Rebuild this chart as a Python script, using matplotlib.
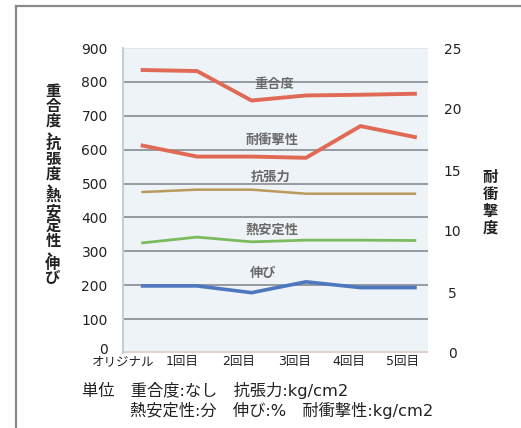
import numpy as np
import matplotlib.pyplot as plt
import matplotlib.transforms as mtransforms
from matplotlib.lines import Line2D

plt.rcParams['font.family'] = ['DejaVu Sans', 'Noto Sans CJK JP']

# データ
categories = ['オリジナル', '1回目', '2回目', '3回目', '4回目', '5回目']
jugodo = [835, 832, 745, 760, 762, 765]        # 重合度 (左軸)
chocho = [475, 482, 482, 470, 470, 470]        # 抗張力 (左軸)
netsu = [325, 342, 328, 333, 333, 332]         # 熱安定性 (左軸)
nobi = [198, 198, 178, 210, 193, 193]          # 伸び (左軸)
taishoge = [17.0, 16.1, 16.1, 16.0, 18.6, 17.7]  # 耐衝撃性 (右軸)

left_ticks = [0, 100, 200, 300, 400, 500, 600, 700, 800, 900]
right_ticks = [0, 5, 10, 15, 20, 25]

W, H = 521, 428
fig = plt.figure(figsize=(W / 100, H / 100), dpi=100)
fig.patch.set_facecolor('white')

# 外枠
fig.add_artist(Line2D([16 / W, 16 / W], [0, 1 - 6 / H], transform=fig.transFigure,
                      color='#8a8a8a', lw=1.6))
fig.add_artist(Line2D([16 / W, 1], [1 - 6 / H, 1 - 6 / H], transform=fig.transFigure,
                      color='#8a8a8a', lw=1.6))

ax = fig.add_axes([123 / W, (H - 353) / H, (428 - 123) / W, (353 - 48) / H])
ax.set_facecolor('#eef3f7')
x = np.arange(len(categories))
ax.set_xlim(-0.31, 5.24)
ax.set_ylim(0, 900)

for v in left_ticks[1:-1]:
    ax.axhline(v, color='#959aa1', lw=1.4, zorder=1)
ax.axhline(900, color='#dfe3e7', lw=1.2, zorder=1)
ax.axhline(3, color='#e3d3cf', lw=1.5, zorder=1)

for s in ['top', 'right', 'bottom']:
    ax.spines[s].set_visible(False)
ax.spines['left'].set_color('#c8cdd2')
ax.spines['left'].set_linewidth(1.5)

ax.plot(x, jugodo, color='#e06a55', lw=2.8, zorder=3)
ax.plot(x, chocho, color='#b89a5a', lw=1.8, zorder=3)
ax.plot(x, netsu, color='#7cba5e', lw=2.0, zorder=3)
ax.plot(x, nobi, color='#4d78bf', lw=2.6, zorder=3)

ax2 = ax.twinx()
ax2.set_ylim(0, 25)
ax2.plot(x, taishoge, color='#e06a55', lw=2.8, zorder=3)
for s in ax2.spines.values():
    s.set_visible(False)

# 系列名
lab_style = dict(color='#6a6a6a', fontsize=9.5, fontweight='bold', ha='center', va='center')
ax.text(2.42, 793, '重合度', **lab_style)
ax.text(2.38, 626, '耐衝撃性', **lab_style)
ax.text(2.35, 518, '抗張力', **lab_style)
ax.text(2.38, 364, '熱安定性', **lab_style)
ax.text(2.22, 235, '伸び', **lab_style)

ax.set_yticks(left_ticks)
ax.set_yticklabels([str(v) for v in left_ticks], fontsize=10, color='#222222')
ax.tick_params(axis='y', length=0, pad=11)
zero_lab = ax.get_yticklabels()[0]
zero_lab.set_transform(zero_lab.get_transform() +
                       mtransforms.ScaledTranslation(0, 4 / 100, fig.dpi_scale_trans))
ax2.set_yticks(right_ticks)
ax2.set_yticklabels([str(v) for v in right_ticks], fontsize=10, color='#222222', ha='center')
ax2.tick_params(axis='y', length=0, pad=17.5)

ax.set_xticks([-0.36, 0.73, 1.76, 2.78, 3.78, 4.78])
ax.set_xticklabels(categories, fontsize=9, color='#222222')
ax.tick_params(axis='x', length=0, pad=1.5)


# 軸ラベル (縦書き)
def vertical_text(xc, y_top, s, step, comma_step, **kw):
    y = y_top
    for ch in s:
        if ch == '、':
            fig.text((xc - 7) / W, 1 - (y + comma_step - 1) / H, ch,
                     ha='left', va='baseline', **kw)
            y += comma_step
        else:
            fig.text(xc / W, 1 - (y + step / 2) / H, ch, ha='center', va='center', **kw)
            y += step


vertical_text(53, 84, '重合度、抗張度、熱安定性、伸び', 15, 7.5,
              fontsize=11, fontweight='bold', color='#222222')
vertical_text(490, 169, '耐衝撃度', 17, 17,
              fontsize=11, fontweight='bold', color='#222222')

# 単位
fig.text(82 / W, 1 - 390 / H, '単位　重合度:なし　抗張力:kg/cm2', fontsize=11.7,
         ha='left', va='center', color='#222222')
fig.text(130 / W, 1 - 410 / H, '熱安定性:分　伸び:%　耐衝撃性:kg/cm2', fontsize=11.7,
         ha='left', va='center', color='#222222')

fig.savefig('out.png', dpi=100)
